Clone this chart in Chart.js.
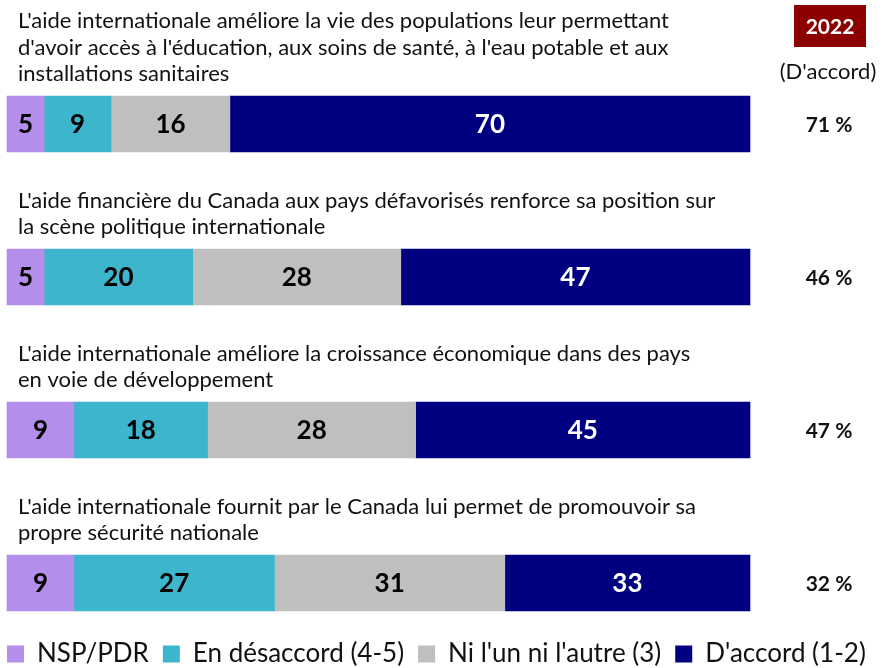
<!DOCTYPE html>
<html lang="fr">
<head>
<meta charset="utf-8">
<script src="https://cdn.jsdelivr.net/npm/chart.js@4.4.1/dist/chart.umd.min.js"></script>
<style>
  html, body { margin: 0; padding: 0; background: #fff; }
</style>
</head>
<body>
<canvas id="c" width="882" height="668"></canvas>
<script>
// données
const questions = [
  ["L'aide internationale améliore la vie des populations leur permettant",
   "d'avoir accès à l'éducation, aux soins de santé, à l'eau potable et aux",
   "installations sanitaires"],
  ["L'aide financière du Canada aux pays défavorisés renforce sa position sur",
   "la scène politique internationale"],
  ["L'aide internationale améliore la croissance économique dans des pays",
   "en voie de développement"],
  ["L'aide internationale fournit par le Canada lui permet de promouvoir sa",
   "propre sécurité nationale"]
];
const nspPdr = [5, 5, 9, 9];
const enDesaccord = [9, 20, 18, 27];
const niLunNiLautre = [16, 28, 28, 31];
const dAccord = [70, 47, 45, 33];
const dAccord2022 = [71, 46, 47, 32];
const seriesNames = ["NSP/PDR", "En désaccord (4-5)", "Ni l'un ni l'autre (3)", "D'accord (1-2)"];
const yearLabel = "2022";
const columnLabel = "(D'accord)";

const FONT = "Lato, 'Open Sans', sans-serif";
const colors = ['#b38eeb', '#3db6cd', '#bfbfbf', '#000080'];
const labelColors = ['#000', '#000', '#000', '#fff'];

// texte des questions, valeurs dans les barres, colonne de droite
const textPlugin = {
  id: 'textPlugin',
  afterDatasetsDraw(chart) {
    const ctx = chart.ctx;
    const area = chart.chartArea;
    ctx.save();

    // valeurs
    ctx.textAlign = 'center';
    ctx.textBaseline = 'middle';
    ctx.font = "bold 26px " + FONT;
    chart.data.datasets.forEach((ds, d) => {
      chart.getDatasetMeta(d).data.forEach((el, i) => {
        ctx.fillStyle = labelColors[d];
        ctx.fillText(ds.data[i], (el.x + el.base) / 2, el.y + 1);
      });
    });

    // questions au-dessus des barres
    ctx.textAlign = 'left';
    ctx.textBaseline = 'alphabetic';
    ctx.font = "22px " + FONT;
    ctx.fillStyle = '#111';
    const meta = chart.getDatasetMeta(0);
    questions.forEach((lines, i) => {
      const el = meta.data[i];
      const top = el.y - el.height / 2;
      lines.forEach((line, j) => {
        const y = top - 15 - (lines.length - 1 - j) * 26.5;
        ctx.fillText(line, 18, y);
      });
    });

    // colonne 2022
    const cx = area.right + 79;
    ctx.fillStyle = '#8c0000';
    ctx.fillRect(cx - 35, 5, 72, 42);
    ctx.textAlign = 'center';
    ctx.textBaseline = 'middle';
    ctx.fillStyle = '#fff';
    ctx.font = "bold 21px " + FONT;
    ctx.fillText(yearLabel, cx + 1, 27);
    ctx.fillStyle = '#111';
    ctx.font = "22px " + FONT;
    ctx.fillText(columnLabel, cx - 1, 72);
    ctx.font = "bold 21px " + FONT;
    dAccord2022.forEach((v, i) => {
      ctx.fillText(v + ' %', cx, meta.data[i].y + 1);
    });
    ctx.restore();
  }
};

new Chart(document.getElementById('c'), {
  type: 'bar',
  data: {
    labels: questions.map(q => q.join(' ')),
    datasets: [
      { label: seriesNames[0], data: nspPdr, backgroundColor: colors[0] },
      { label: seriesNames[1], data: enDesaccord, backgroundColor: colors[1] },
      { label: seriesNames[2], data: niLunNiLautre, backgroundColor: colors[2] },
      { label: seriesNames[3], data: dAccord, backgroundColor: colors[3] }
    ].map(ds => Object.assign(ds, { barThickness: 56, clip: false, borderWidth: 0 }))
  },
  options: {
    indexAxis: 'y',
    responsive: false,
    animation: false,
    layout: { padding: { top: 124, bottom: -9, left: -7, right: -10 } },
    plugins: {
      legend: {
        position: 'bottom',
        align: 'start',
        labels: {
          boxWidth: 17,
          boxHeight: 17,
          padding: 14,
          color: '#111',
          font: { family: FONT, size: 26 }
        }
      },
      tooltip: { enabled: false }
    },
    scales: {
      x: {
        stacked: true,
        min: 0,
        max: 100,
        grid: { display: false },
        border: { display: false },
        ticks: { display: false },
        afterFit(s) { s.height = 44; }
      },
      y: {
        stacked: true,
        offset: false,
        grid: { display: false },
        border: { display: false },
        ticks: { display: false },
        afterFit(s) { s.width = 14; }
      },
      yRight: {
        type: 'category',
        position: 'right',
        grid: { display: false },
        border: { display: false },
        ticks: { display: false },
        afterFit(s) { s.width = 142; }
      }
    }
  },
  plugins: [textPlugin]
});
</script>
</body>
</html>
